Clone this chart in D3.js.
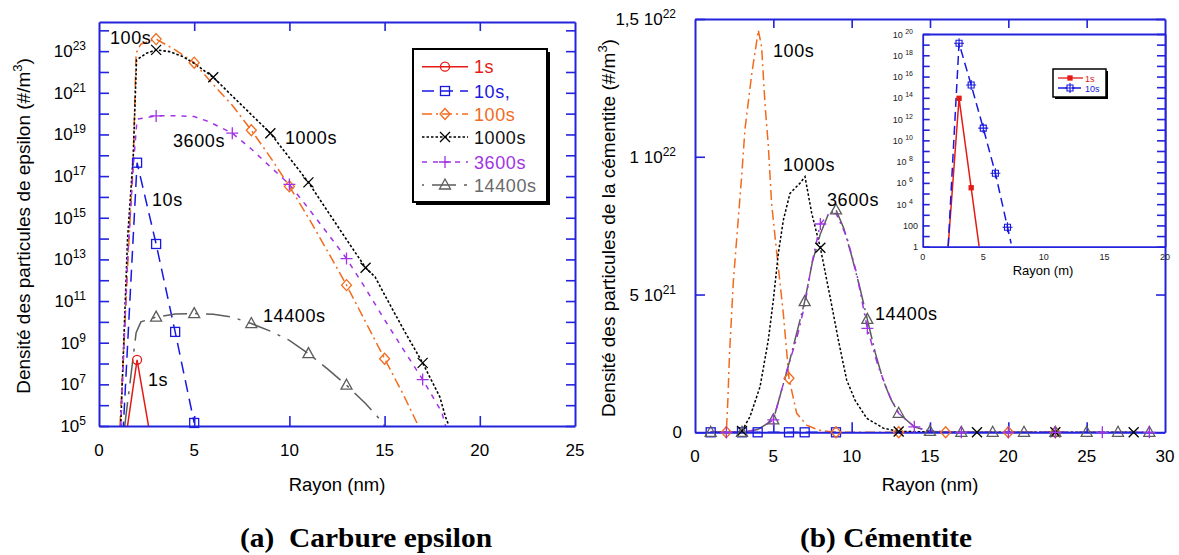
<!DOCTYPE html>
<html><head><meta charset="utf-8">
<script src="https://cdn.jsdelivr.net/npm/d3@7"></script>
<style>
body{margin:0;background:#fff}
svg{display:block}
text{font-family:"Liberation Sans",Arial,Helvetica,sans-serif}
text.cap{font-family:"Liberation Serif","Times New Roman",serif;font-weight:bold}
</style>
</head><body>
<svg id="c" width="1179" height="555"></svg>
<script>
// ================= DATA =================
// (a) Carbure epsilon : radius (nm), density (#/m3), log scale
const epsLabels = ["1s", "10s,", "100s", "1000s", "3600s", "14400s"];
const eps1s = [[1,7e1],[2,1.5e8],[3,8e2]];
const eps10s = [[1,1.2],[2,4.4e17],[3,5.5e13],[4,3.3e9],[5,1.4e5]];
const eps100s = [[1.1,1e5],[1.54,2e13],[1.8,6e17],[1.95,8e22],[2.2,2.2e23],[3,3.8e23],[4,1.15e23],[5,2.8e22],[6,2.5e21],[7,2.5e20],[8,1.6e19],[9,8e17],[10,3.2e16],[11,1e15],[12,2.5e13],[13,5.8e11],[14,1e10],[15,1.7e8],[16,3e6],[16.7,1.4e5]];
const eps1000s = [[1.14,1e5],[1.5,1e14],[1.8,1e18],[1.97,3.8e22],[2.5,8e22],[3,1.15e23],[3.7,9.5e22],[4.4,5.5e22],[5,2.6e22],[6,5.6e21],[7,7e20],[8,9e19],[9,1.15e19],[10,7.6e17],[11,5e16],[12,2.1e15],[13,9e13],[14,4e12],[14.5,1.45e12],[15,2e11],[16,4.2e9],[17,1.07e8],[17.9,2.5e6],[18.2,2.7e5],[18.35,1.2e5]];
const eps3600s = [[1.14,1e5],[1.5,1e13],[1.8,3e17],[2,5.4e19],[3,7.8e19],[4,8e19],[5,7.2e19],[5.8,4e19],[7,1.15e19],[8,2e18],[9,2.8e17],[10,4e16],[11,2.8e15],[12,1.8e14],[13,1.1e13],[14,4e11],[15,1.26e10],[16,4.5e8],[17,1.7e7],[18,4.7e5],[18.2,1e5]];
const eps14400s = [[1.35,1e5],[1.95,3e9],[2.2,1e10],[3,1.7e10],[4,2.4e10],[5,2.5e10],[6,2.3e10],[7,1.7e10],[8,8.3e9],[9,3.6e9],[10,1.3e9],[11,3e8],[12,5.5e7],[13,9.1e6],[14,1.2e6],[14.6,3e5],[15,1e5]];
const eps1sMarks = [2];
const eps10sMarks = [2,3,4,5];
const eps100sMarks = [3,5,8,10,13,15];
const eps1000sMarks = [3,6,9,11,14,17];
const eps3600sMarks = [3,7,10,13,17];
const eps14400sMarks = [3,5,8,11,13];
const epsXTicks = [0,5,10,15,20,25];
const epsYExponents = [5,6,7,8,9,10,11,12,13,14,15,16,17,18,19,20,21,22,23,24];

// (b) Cementite : radius (nm), density (#/m3), linear scale
const cemLabels = ["10s", "100s", "1000s", "3600s", "14400s"];
const cem10s = [[1,0],[3,0],[4,0],[6,0],[7,0],[9,0]];
const cem100s = [[1,0],[2,0],[2.1,1.2e21],[2.2,2.8e21],[2.45,5.5e21],[2.77,7.8e21],[2.98,9.3e21],[3.19,1.1e22],[3.62,1.3e22],[3.94,1.42e22],[4.04,1.46e22],[4.25,1.4e22],[4.47,1.19e22],[4.68,1.04e22],[4.89,8.3e21],[5.22,6.5e21],[5.64,4.3e21],[6,1.96e21],[6.49,6.9e20],[7.13,2.6e20],[7.9,8e19],[9,0],[13,0],[16,0],[20,0],[23,0]];
const cem1000s = [[1,0],[2.8,0],[3,5e19],[3.51,5.7e20],[4.15,1.65e21],[4.68,3.35e21],[5,4.8e21],[5.32,6.5e21],[5.64,7.7e21],[6.06,8.67e21],[6.7,9.04e21],[7.02,9.28e21],[7.45,7.95e21],[8,6.7e21],[8.62,4.92e21],[9.15,3.35e21],[9.68,1.9e21],[10.21,1.17e21],[10.96,5.1e20],[12.02,1.5e20],[13,3e19],[18,0],[23,0],[28,0]];
const cem3600s = [[1,0],[2,0],[3,0],[4,1e20],[5,4.5e20],[6,2.5e21],[6.49,3.4e21],[7,4.6e21],[7.45,6.1e21],[8,7.56e21],[8.5,7.9e21],[9,7.95e21],[9.68,7.1e21],[10.32,5.77e21],[11,3.77e21],[11.7,2.38e21],[12.45,1.29e21],[13,6.9e20],[14,2e20],[15,5e19],[17,0],[20,0],[23,0],[26,0],[29,0]];
const cem14400s = [[1,0],[3,0],[4,1e20],[5,4.5e20],[6,2.5e21],[7,4.74e21],[7.5,6.2e21],[8,7.2e21],[8.5,7.9e21],[9,8.07e21],[9.5,7.4e21],[10,6.4e21],[10.5,5.3e21],[11,4.1e21],[11.5,2.9e21],[12,1.9e21],[12.5,1.2e21],[13,6.9e20],[14,2e20],[15,3e19],[17,0],[19,0],[21,0],[23,0],[25,0],[27,0],[29,0]];
const cem10sMarks = [1,3,4,6,7,9];
const cem100sMarks = [2,6,9,13,16,20,23];
const cem1000sMarks = [3,8,13,18,23,28];
const cem3600sMarks = [2,5,8,11,14,17,20,23,26,29];
const cem14400sMarks = [1,3,5,7,9,11,13,15,17,19,21,23,25,27,29];
const cemXTicks = [0,5,10,15,20,25,30];
const cemYTicks = [0,5e21,1e22,1.5e22];
const cemYTickMant = ["0","5 10","1 10","1,5 10"];
const cemYTickExp = ["","21","22","22"];

// inset (log scale)
const insLabels = ["1s","10s"];
const ins1s = [[2.1,1],[3,9e13],[4,3.5e5],[4.66,1]];
const ins10s = [[2.1,1],[3,1.35e19],[4,1.6e15],[5,1.4e11],[6,8e6],[7,68],[7.3,2]];
const ins1sMarks = [3,4];
const ins10sMarks = [3,4,5,6,7];
const insXTicks = [0,5,10,15,20];
const insYExponents = [0,1,2,3,4,5,6,7,8,9,10,11,12,13,14,15,16,17,18,19,20];

// ================= STYLE =================
const AX = "#2323dc";
const C = {red:"#e41a14", blue:"#1818e0", orange:"#f26b1d", black:"#000000", purple:"#a133e4", gray:"#5c5c5c"};
const svg = d3.select("#c");

function marker(g, type, cx, cy, color){
  const a = {stroke:color, fill:"none", "stroke-width":1.3};
  let el;
  if(type==="circle") el = g.append("circle").attr("cx",cx).attr("cy",cy).attr("r",4.5);
  else if(type==="square") el = g.append("rect").attr("x",cx-4.5).attr("y",cy-4.5).attr("width",9).attr("height",9);
  else if(type==="diamond") el = g.append("path").attr("d",`M${cx},${cy-5.5}L${cx+5},${cy}L${cx},${cy+5.5}L${cx-5},${cy}Z`);
  else if(type==="x") el = g.append("path").attr("d",`M${cx-5},${cy-5}L${cx+5},${cy+5}M${cx-5},${cy+5}L${cx+5},${cy-5}`);
  else if(type==="plus") el = g.append("path").attr("d",`M${cx-6},${cy}H${cx+6}M${cx},${cy-6}V${cy+6}`);
  else if(type==="triangle") el = g.append("path").attr("d",`M${cx},${cy-6}L${cx+5.5},${cy+4}L${cx-5.5},${cy+4}Z`);
  else if(type==="fsquare"){ el = g.append("rect").attr("x",cx-2).attr("y",cy-2).attr("width",4).attr("height",4); a.fill=color; }
  else if(type==="xsquare"){ el = g.append("path").attr("d",`M${cx-3},${cy-3}h6v6h-6zM${cx-5},${cy}H${cx+5}M${cx},${cy-5}V${cy+5}`); a["stroke-width"]=1.1; }
  for(const k in a) el.attr(k,a[k]);
}

function styleAxis(sel, w){
  sel.select(".domain").attr("stroke",AX).attr("stroke-width",w||2);
  sel.selectAll(".tick line").attr("stroke",AX).attr("stroke-width",1.6);
  sel.selectAll(".tick text").remove();
}

// ================= (a) LEFT CHART =================
const xE = d3.scaleLinear().domain([0,25]).range([99,575]);
const yE = d3.scaleLog().domain([1e5, Math.pow(10,24.4)]).range([426,22]);
const gL = svg.append("g");
svg.append("clipPath").attr("id","clipL").append("rect").attr("x",99).attr("y",22).attr("width",476).attr("height",404);

const epsData = [eps1s, eps10s, eps100s, eps1000s, eps3600s, eps14400s];
const epsMarks = [eps1sMarks, eps10sMarks, eps100sMarks, eps1000sMarks, eps3600sMarks, eps14400sMarks];
const epsColors = [C.red, C.blue, C.orange, C.black, C.purple, C.gray];
const epsText = [C.red, C.blue, C.orange, "#111", C.purple, "#6a6a6a"];
const epsDash = [null, "12,7", "10,4,2,4", "2.5,2", "5,6", "24,8,3,8"];
const epsMk = ["circle","square","diamond","x","plus","triangle"];

const lineE = d3.line().x(d=>xE(d[0])).y(d=>yE(Math.max(d[1],1e-3)));
const linesL = gL.append("g").attr("clip-path","url(#clipL)");
epsData.forEach((ser,i)=>{
  linesL.append("path").attr("d",lineE(ser)).attr("fill","none").attr("stroke",epsColors[i])
    .attr("stroke-width",i===3?1.6:1.5).attr("stroke-dasharray",epsDash[i]);
});
epsData.forEach((ser,i)=>{
  ser.filter(d=>epsMarks[i].includes(d[0]) && d[1]>=1e5).forEach(d=>marker(gL,epsMk[i],xE(d[0]),yE(d[1]),epsColors[i]));
});

// axes
const decs = epsYExponents.map(e=>Math.pow(10,e));
styleAxis(gL.append("g").attr("transform","translate(0,426)").call(d3.axisBottom(xE).tickValues([5,10,15,20]).tickSize(-10).tickSizeOuter(0)));
styleAxis(gL.append("g").attr("transform","translate(0,22)").call(d3.axisTop(xE).tickValues([5,10,15,20]).tickSize(-9).tickSizeOuter(0)));
styleAxis(gL.append("g").attr("transform","translate(99,0)").call(d3.axisLeft(yE).tickValues(decs).tickSize(-10).tickSizeOuter(0)));
styleAxis(gL.append("g").attr("transform","translate(575,0)").call(d3.axisRight(yE).tickValues(decs).tickSize(-9).tickSizeOuter(0)));

// tick labels
epsXTicks.forEach(t=>{
  gL.append("text").attr("x",xE(t)).attr("y",455.5).attr("text-anchor","middle").attr("font-size",17).text(t);
});
epsYExponents.filter(e=>e%2===1).forEach(e=>{
  const t = gL.append("text").attr("x",86).attr("y",yE(Math.pow(10,e))+6).attr("text-anchor","end").attr("font-size",17);
  t.append("tspan").text("10");
  t.append("tspan").attr("font-size",12).attr("dy",-7).text(e);
});
// titles
gL.append("text").attr("x",337).attr("y",491).attr("text-anchor","middle").attr("font-size",18.5).text("Rayon (nm)");
const ytL = gL.append("text").attr("transform","translate(30,226) rotate(-90)").attr("text-anchor","middle").attr("font-size",19);
ytL.append("tspan").text("Densité des particules de epsilon (#/m");
ytL.append("tspan").attr("font-size",13).attr("dy",-8).text("3");
ytL.append("tspan").attr("dy",8).text(")");

// in-plot labels
[["100s",110,44],["3600s",173,147],["1000s",285,144],["10s",152,206],["14400s",263,322],["1s",148,386]].forEach(l=>{
  gL.append("text").attr("x",l[1]).attr("y",l[2]).attr("font-size",18).attr("letter-spacing",0.6).text(l[0]);
});

// legend
const lg = gL.append("g");
lg.append("rect").attr("x",416).attr("y",52).attr("width",134).attr("height",153).attr("fill","#000");
lg.append("rect").attr("x",413).attr("y",49).attr("width",134).attr("height",153).attr("fill","#fff").attr("stroke","#000").attr("stroke-width",2);
const legY = [66.7,91,114,137,162,185];
const legDashOffset = [0,0,0,0,0,-10];
epsLabels.forEach((lab,i)=>{
  lg.append("line").attr("x1",422).attr("x2",468).attr("y1",legY[i]).attr("y2",legY[i]).attr("stroke",epsColors[i])
    .attr("stroke-width",1.5).attr("stroke-dasharray",epsDash[i]).attr("stroke-dashoffset",legDashOffset[i]);
  marker(lg,epsMk[i],445,legY[i],epsColors[i]);
  lg.append("text").attr("x",474).attr("y",legY[i]+6.5).attr("font-size",18).attr("letter-spacing",0.6).attr("fill",epsText[i]).text(lab);
});

// ================= (b) RIGHT CHART =================
const xC = d3.scaleLinear().domain([0,30]).range([695,1165]);
const yC = d3.scaleLinear().domain([0,1.5e22]).range([432.3,19]);
const gR = svg.append("g");
svg.append("clipPath").attr("id","clipR").append("rect").attr("x",695).attr("y",19).attr("width",470).attr("height",414);

const cemData = [cem10s, cem100s, cem1000s, cem14400s, cem3600s];
const cemMarks = [cem10sMarks, cem100sMarks, cem1000sMarks, cem14400sMarks, cem3600sMarks];
const cemColors = [C.blue, C.orange, C.black, C.gray, C.purple];
const cemDash = ["12,7", "10,4,2,4", "2.5,2", "26,4,2,4", "7,5,2,5"];
const cemMk = ["square","diamond","x","triangle","plus"];
const lineC = d3.line().x(d=>xC(d[0])).y(d=>yC(d[1]));
const linesR = gR.append("g").attr("clip-path","url(#clipR)");
cemData.forEach((ser,i)=>{
  linesR.append("path").attr("d",lineC(ser)).attr("fill","none").attr("stroke",cemColors[i])
    .attr("stroke-width",1.5).attr("stroke-dasharray",cemDash[i]);
});

// axes
styleAxis(gR.append("g").attr("transform","translate(0,432.3)").call(d3.axisBottom(xC).tickValues([5,10,15,20,25]).tickSize(-10).tickSizeOuter(0)));
styleAxis(gR.append("g").attr("transform","translate(0,19)").call(d3.axisTop(xC).tickValues([5,10,15,20,25]).tickSize(-9).tickSizeOuter(0)));
styleAxis(gR.append("g").attr("transform","translate(695,0)").call(d3.axisLeft(yC).tickValues(cemYTicks).tickSize(-10).tickSizeOuter(0)));

cemData.forEach((ser,i)=>{
  ser.filter(d=>cemMarks[i].includes(d[0])).forEach(d=>marker(gR,cemMk[i],xC(d[0]),yC(d[1]),cemColors[i]));
});

cemXTicks.forEach(t=>{
  gR.append("text").attr("x",xC(t)).attr("y",462).attr("text-anchor","middle").attr("font-size",17).text(t);
});
cemYTicks.forEach((v,i)=>{
  const t = gR.append("text").attr("x",cemYTickExp[i]?676:682).attr("y",yC(v)+6).attr("text-anchor","end").attr("font-size",17);
  t.append("tspan").text(cemYTickMant[i]);
  if(cemYTickExp[i]) t.append("tspan").attr("font-size",12).attr("dy",-7).text(cemYTickExp[i]);
});
gR.append("text").attr("x",930).attr("y",491).attr("text-anchor","middle").attr("font-size",18.5).text("Rayon (nm)");
const ytR = gR.append("text").attr("transform","translate(615,228) rotate(-90)").attr("text-anchor","middle").attr("font-size",19);
ytR.append("tspan").text("Densité des particules de la cémentite (#/m");
ytR.append("tspan").attr("font-size",13).attr("dy",-8).text("3");
ytR.append("tspan").attr("dy",8).text(")");

[["100s",773,57],["1000s",783,171],["3600s",827,206],["14400s",875,320]].forEach(l=>{
  gR.append("text").attr("x",l[1]).attr("y",l[2]).attr("font-size",18).attr("letter-spacing",0.6).text(l[0]);
});

// ---------- inset ----------
const xI = d3.scaleLinear().domain([0,20]).range([922.7,1165]);
const yI = d3.scaleLog().domain([1,1e20]).range([246.7,34]);
const gI = svg.append("g");
gI.append("rect").attr("x",922.7).attr("y",34).attr("width",242.3).attr("height",212.7).attr("fill","#fff");
svg.append("clipPath").attr("id","clipI").append("rect").attr("x",922.7).attr("y",34).attr("width",242.3).attr("height",212.7);
const insData = [ins1s, ins10s];
const insMarks = [ins1sMarks, ins10sMarks];
const insColors = [C.red, C.blue];
const insDash = [null, "9,5"];
const insMk = ["fsquare","xsquare"];
const lineI = d3.line().x(d=>xI(d[0])).y(d=>yI(d[1]));
const linesI = gI.append("g").attr("clip-path","url(#clipI)");
insData.forEach((ser,i)=>{
  linesI.append("path").attr("d",lineI(ser)).attr("fill","none").attr("stroke",insColors[i])
    .attr("stroke-width",1.5).attr("stroke-dasharray",insDash[i]);
});
insData.forEach((ser,i)=>{
  ser.filter(d=>insMarks[i].includes(d[0])).forEach(d=>marker(gI,insMk[i],xI(d[0]),yI(d[1]),insColors[i]));
});
const idecs = insYExponents.map(e=>Math.pow(10,e));
styleAxis(gI.append("g").attr("transform","translate(0,246.7)").call(d3.axisBottom(xI).tickValues([]).tickSizeOuter(0)),1.8);
styleAxis(gI.append("g").attr("transform","translate(0,34)").call(d3.axisTop(xI).tickValues([]).tickSizeOuter(0)),1.8);
styleAxis(gI.append("g").attr("transform","translate(922.7,0)").call(d3.axisLeft(yI).tickValues(idecs).tickSize(-7).tickSizeOuter(0)),1.8);
styleAxis(gI.append("g").attr("transform","translate(1165,0)").call(d3.axisRight(yI).tickValues(idecs).tickSize(-8).tickSizeOuter(0)),2);
insXTicks.forEach(t=>{
  gI.append("text").attr("x",xI(t)).attr("y",260).attr("text-anchor","middle").attr("font-size",9).attr("fill","#222").text(t);
});
insYExponents.filter(e=>e%2===0).forEach(e=>{
  const t = gI.append("text").attr("x",e<4?918:913).attr("y",yI(Math.pow(10,e))+3.5).attr("text-anchor","end").attr("font-size",9).attr("fill","#222");
  if(e===0) t.text("1"); else if(e===2) t.text("100");
  else { t.append("tspan").text("10 "); t.append("tspan").attr("font-size",7).attr("dy",-4).text(e); }
});
gI.append("text").attr("x",1043).attr("y",275).attr("text-anchor","middle").attr("font-size",13).text("Rayon (m)");
// inset legend
gI.append("rect").attr("x",1055).attr("y",71).attr("width",53).attr("height",28).attr("fill","#000");
gI.append("rect").attr("x",1053).attr("y",69).attr("width",53).attr("height",28).attr("fill","#fff").attr("stroke","#000").attr("stroke-width",1.5);
[78,88].forEach((yy,i)=>{
  gI.append("line").attr("x1",1058).attr("x2",1083).attr("y1",yy).attr("y2",yy).attr("stroke",insColors[i]).attr("stroke-width",1.3).attr("stroke-dasharray",insDash[i]);
  marker(gI,insMk[i],1070,yy,insColors[i]);
  gI.append("text").attr("x",1085).attr("y",yy+3.5).attr("font-size",9).attr("fill",insColors[i]).text(insLabels[i]);
});

// right main axis on top of inset
styleAxis(gR.append("g").attr("transform","translate(1165,0)").call(d3.axisRight(yC).tickValues(cemYTicks).tickSize(-9).tickSizeOuter(0)));

// ================= CAPTIONS =================
svg.append("text").attr("class","cap").attr("x",366).attr("y",547).attr("text-anchor","middle")
  .attr("font-size",28).attr("xml:space","preserve").attr("textLength",252).attr("lengthAdjust","spacingAndGlyphs")
  .text("(a)  Carbure epsilon");
svg.append("text").attr("class","cap").attr("x",886).attr("y",547).attr("text-anchor","middle")
  .attr("font-size",28).attr("textLength",172).attr("lengthAdjust","spacingAndGlyphs").text("(b) Cémentite");
</script>
</body></html>
